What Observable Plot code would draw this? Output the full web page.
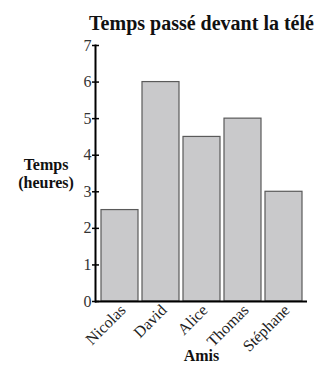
<!DOCTYPE html>
<html>
<head>
<meta charset="utf-8">
<script src="https://cdn.jsdelivr.net/npm/d3@7"></script>
<script src="https://cdn.jsdelivr.net/npm/@observablehq/plot@0.6"></script>
<style>
  html, body { margin: 0; padding: 0; background: #fff; }
  #chart svg, #chart svg text { font-family: "Liberation Serif", "DejaVu Serif", serif; }
</style>
</head>
<body>
<div id="chart"></div>
<script>
const names = ["Nicolas", "David", "Alice", "Thomas", "Stéphane"];
const hours = [2.5, 6, 4.5, 5, 3];
const yTicks = [0, 1, 2, 3, 4, 5, 6, 7];
const title = "Temps passé devant la télé";
const yLabel = "Temps\n(heures)";
const xLabel = "Amis";

const data = names.map((n, i) => ({name: n, hours: hours[i]}));
const serif = "Liberation Serif";

const chart = Plot.plot({
  width: 319,
  height: 367,
  marginLeft: 95,
  marginRight: 12,
  marginTop: 45,
  marginBottom: 66,
  style: {background: "#fff"},
  x: {domain: names, paddingInner: 0.1, paddingOuter: 0.05, insetLeft: 4, insetRight: 3, label: null},
  y: {domain: [0, 7], label: null},
  marks: [
    Plot.barY(data, {x: "name", y: "hours", fill: "#c9c9cb", stroke: "#5a5a5a", strokeWidth: 1.2}),
    Plot.ruleY([0], {stroke: "#000", strokeWidth: 2}),
    Plot.frame({anchor: "left", stroke: "#000", strokeWidth: 2}),
    Plot.axisY({ticks: yTicks, tickSize: 7, dx: 4, tickPadding: 1, fontSize: 16, fontFamily: serif, fill: "#333", stroke: "#000", strokeWidth: 1.5, tickFormat: d => String(d), label: null}),
    Plot.axisX({tickSize: 0, tickRotate: -45, tickPadding: 6, dx: 3, fontSize: 16, fontFamily: serif, fill: "#222", label: null}),
    Plot.text([title], {frameAnchor: "top", dy: -30, fontSize: 20, fontFamily: serif, fontWeight: "bold", fill: "#111", textAnchor: "middle"}),
    Plot.text([yLabel], {frameAnchor: "left", dx: -49.5, fontSize: 16, fontFamily: serif, fontWeight: "bold", lineHeight: 1.125, fill: "#111", textAnchor: "middle"}),
    Plot.text([xLabel], {frameAnchor: "bottom", dy: 59, fontSize: 16, fontFamily: serif, fontWeight: "bold", fill: "#111", textAnchor: "middle"})
  ]
});
document.getElementById("chart").appendChild(chart);
</script>
</body>
</html>
